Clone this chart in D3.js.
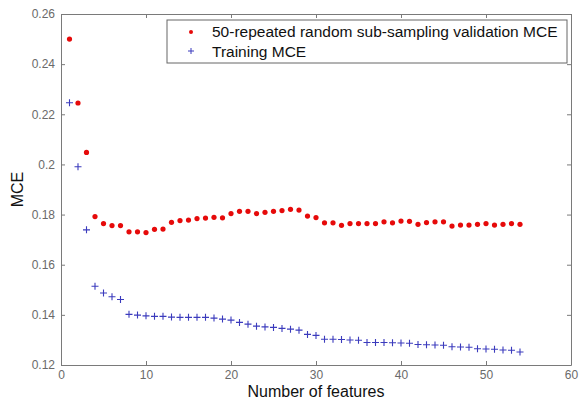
<!DOCTYPE html>
<html>
<head>
<meta charset="utf-8">
<script src="https://cdn.jsdelivr.net/npm/d3@7"></script>
<style>
  body { margin: 0; background: #fff; }
  svg { font-family: Arial, "Liberation Sans", sans-serif; }
</style>
</head>
<body>
<div id="chart"></div>
<script>
const width = 584;
const height = 400;

// Data ==================================================================
const features = d3.range(1, 55);

const validationMCE = [
	0.250, 0.2245, 0.2048, 0.1792, 0.1764, 0.1756, 0.1756, 0.1731, 0.1731, 0.1728,
	0.1741, 0.1742, 0.1769, 0.1776, 0.1778, 0.1784, 0.1786, 0.1789, 0.1787, 0.1804,
	0.1813, 0.1813, 0.1804, 0.1809, 0.1813, 0.1816, 0.1821, 0.1818, 0.1794, 0.1788,
	0.1767, 0.1767, 0.1757, 0.1764, 0.1764, 0.1764, 0.1764, 0.1771, 0.1767, 0.1774,
	0.1773, 0.1761, 0.1768, 0.1771, 0.1771, 0.1754, 0.1758, 0.1758, 0.1761, 0.1764,
	0.1758, 0.1761, 0.1764, 0.1761
];

const trainingMCE = [
	0.2246, 0.1991, 0.1739, 0.1514, 0.1487, 0.1472, 0.1461, 0.1402, 0.1399, 0.1396,
	0.1394, 0.1394, 0.1391, 0.1390, 0.1390, 0.1390, 0.1390, 0.1387, 0.1383, 0.1379,
	0.1370, 0.1363, 0.1355, 0.1352, 0.1350, 0.1346, 0.1343, 0.1339, 0.1322, 0.1318,
	0.1303, 0.1303, 0.1302, 0.1300, 0.1299, 0.1290, 0.1290, 0.1290, 0.1289, 0.1288,
	0.1287, 0.1282, 0.1281, 0.1280, 0.1279, 0.1273, 0.1272, 0.1271, 0.1265, 0.1264,
	0.1263, 0.1260, 0.1259, 0.1252
];

const xTicks = [0, 10, 20, 30, 40, 50, 60];
const yTicks = [0.12, 0.14, 0.16, 0.18, 0.2, 0.22, 0.24, 0.26];

const legendLabels = ['50-repeated random sub-sampling validation MCE', 'Training MCE'];
// =================================================================

const margin = { top: 14, right: 13, bottom: 35, left: 61 };
const chartWidth = width - margin.left - margin.right;
const chartHeight = height - margin.top - margin.bottom;

const svg = d3.select('#chart').append('svg').attr('width', width).attr('height', height);
const chart = svg.append('g').attr('transform', `translate(${margin.left}, ${margin.top})`);

const xScale = d3.scaleLinear().domain([0, 60]).range([0, chartWidth]);
const yScale = d3.scaleLinear().domain([0.12, 0.26]).range([chartHeight, 0]);

const axisColor = '#7a7a7a';
const fmt = (d) => (d === 0.2 ? '0.2' : d3.format('.2f')(d));

// Axes (ticks inside, box on all sides)
function styleAxis(g) {
	g.select('.domain').attr('stroke', axisColor);
	g.selectAll('.tick line').attr('stroke', axisColor);
	g.selectAll('.tick text').attr('fill', '#6a6a6a').style('font-size', '12px');
}

chart.append('g')
	.attr('transform', `translate(0, ${chartHeight})`)
	.call(d3.axisBottom(xScale).tickValues(xTicks).tickSizeInner(-4).tickSizeOuter(0).tickPadding(5))
	.call(styleAxis);

chart.append('g')
	.call(d3.axisLeft(yScale).tickValues(yTicks).tickFormat(fmt).tickSizeInner(-4).tickSizeOuter(0).tickPadding(6))
	.call(styleAxis);

chart.append('g')
	.call(d3.axisTop(xScale).tickValues(xTicks).tickFormat('').tickSizeInner(-4).tickSizeOuter(0))
	.call(styleAxis);

chart.append('g')
	.attr('transform', `translate(${chartWidth}, 0)`)
	.call(d3.axisRight(yScale).tickValues(yTicks).tickFormat('').tickSizeInner(-4).tickSizeOuter(0))
	.call(styleAxis);

// Axis labels
chart.append('text')
	.attr('x', chartWidth / 2)
	.attr('y', chartHeight + 32)
	.attr('text-anchor', 'middle')
	.style('font-size', '16px')
	.attr('fill', '#111')
	.text('Number of features');

chart.append('text')
	.attr('transform', `translate(${-38}, ${yScale(0.19)}) rotate(-90)`)
	.attr('text-anchor', 'middle')
	.style('font-size', '16px')
	.attr('fill', '#111')
	.text('MCE');

// Markers
const red = '#e60a0a';
const blue = '#3b3bbd';

chart.selectAll('.val')
	.data(features)
	.enter()
	.append('circle')
	.attr('class', 'val')
	.attr('cx', (d) => xScale(d))
	.attr('cy', (d, i) => yScale(validationMCE[i]))
	.attr('r', 2.6)
	.attr('fill', red);

chart.selectAll('.train')
	.data(features)
	.enter()
	.append('path')
	.attr('class', 'train')
	.attr('transform', (d, i) => `translate(${xScale(d)}, ${yScale(trainingMCE[i])})`)
	.attr('d', 'M-3.5,0H3.5M0,-3.5V3.5')
	.attr('stroke', blue)
	.attr('stroke-width', 1.1)
	.attr('fill', 'none');

// Legend
const legend = svg.append('g').attr('transform', 'translate(167, 20)');
legend.append('rect')
	.attr('width', 400)
	.attr('height', 43)
	.attr('fill', '#fff')
	.attr('stroke', '#666');

legend.append('circle').attr('cx', 24).attr('cy', 12).attr('r', 2).attr('fill', red);
legend.append('path')
	.attr('transform', 'translate(24, 31)')
	.attr('d', 'M-3,0H3M0,-3V3')
	.attr('stroke', blue)
	.attr('stroke-width', 1);

legend.selectAll('.lbl')
	.data(legendLabels)
	.enter()
	.append('text')
	.attr('class', 'lbl')
	.attr('x', 45)
	.attr('y', (d, i) => 17 + i * 20)
	.style('font-size', '15.5px')
	.attr('fill', '#111')
	.text((d) => d);
</script>
</body>
</html>
